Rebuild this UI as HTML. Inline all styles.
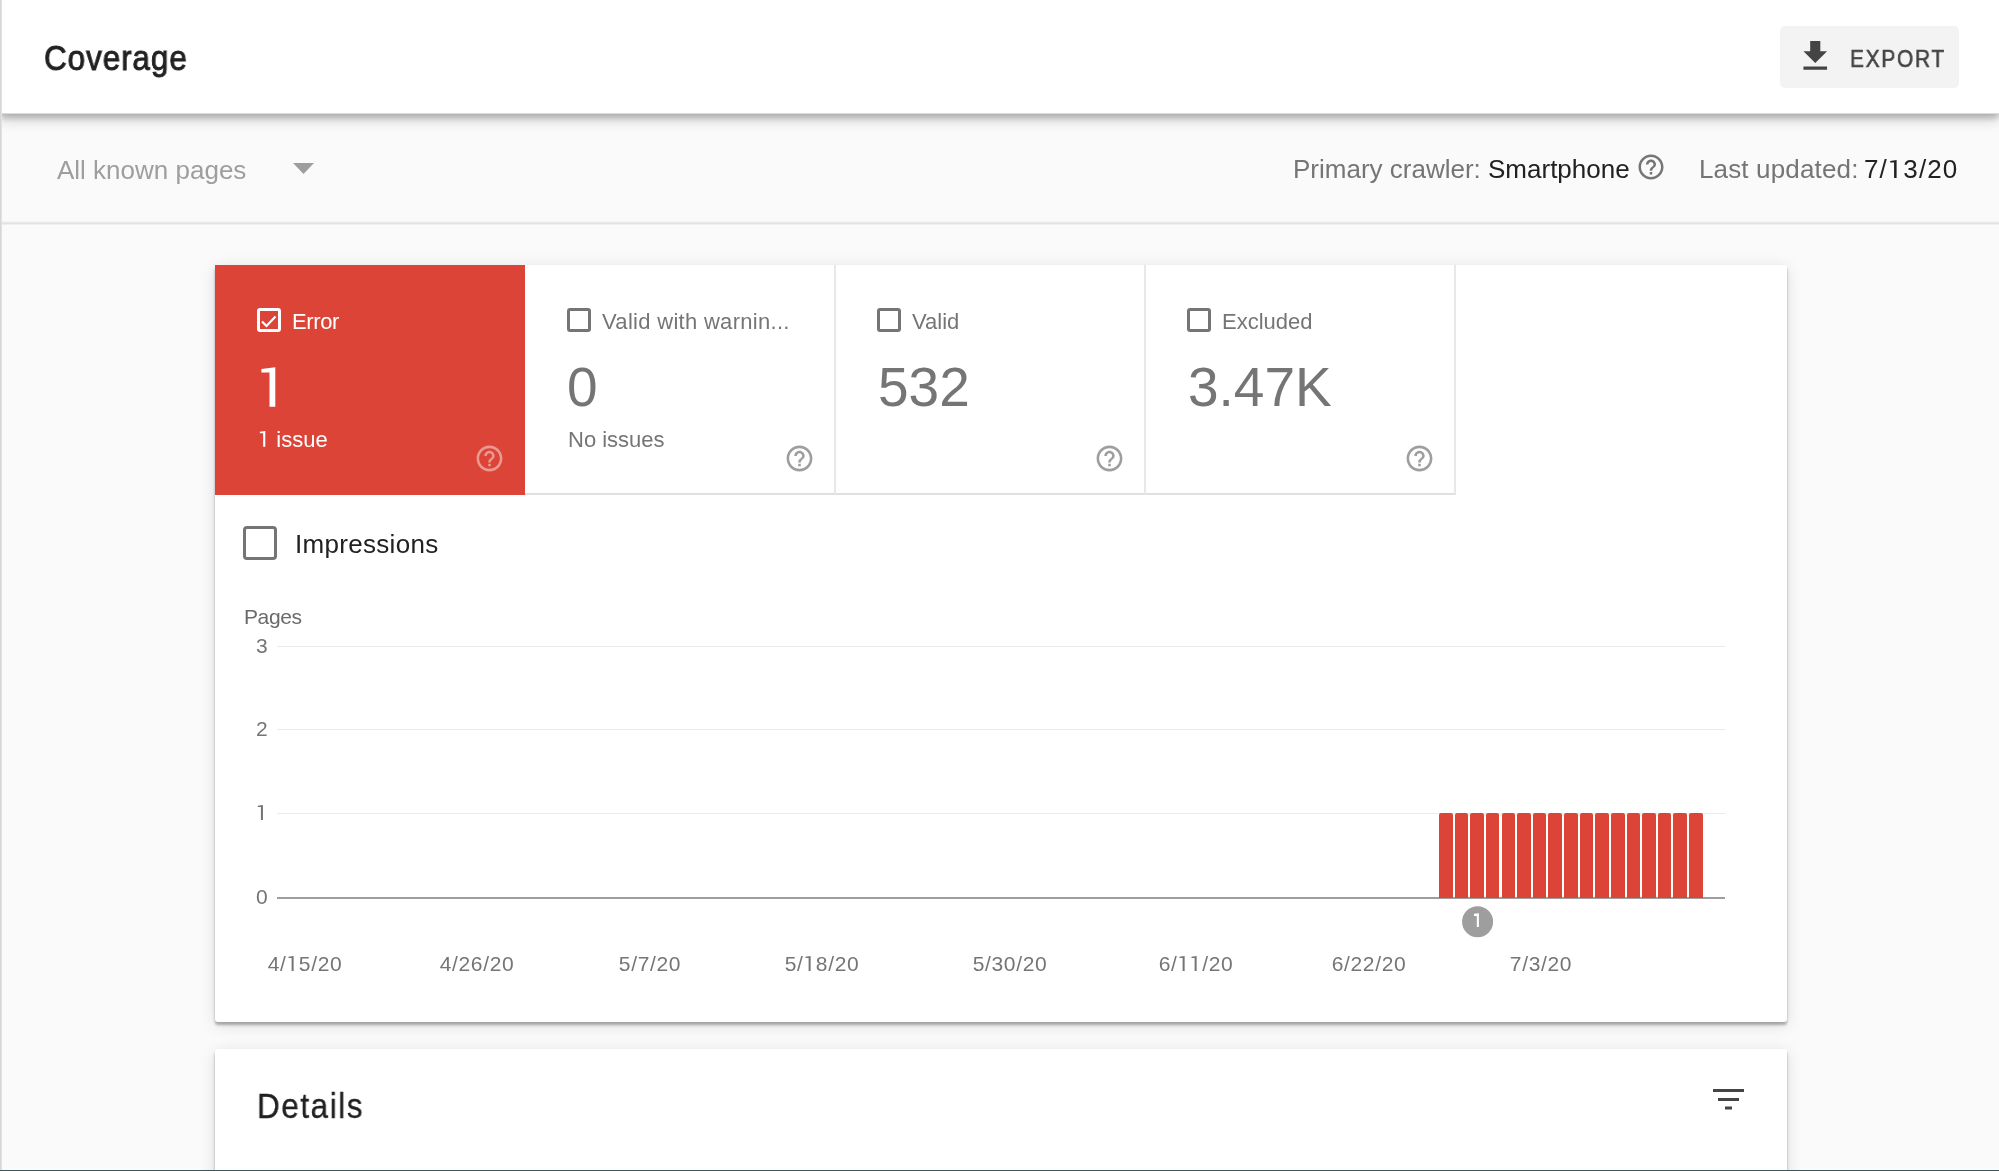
<!DOCTYPE html>
<html><head><meta charset="utf-8">
<style>
html,body{margin:0;padding:0;}
body{width:1999px;height:1171px;overflow:hidden;position:relative;background:#fafafa;font-family:"Liberation Sans",sans-serif;}
.a{position:absolute;white-space:nowrap;line-height:1;will-change:transform;}
#lstrip{left:0;top:0;width:2px;height:1171px;background:linear-gradient(90deg,#d6d6d6 0,#d6d6d6 50%,#e2e2e2 50%,#e2e2e2 100%);z-index:50;}
#bline{left:0;top:1170px;width:1999px;height:1px;background:#3b565d;z-index:50;}
#header{left:0;top:0;width:1999px;height:114px;background:#fff;box-shadow:0 4px 6px rgba(0,0,0,.2),0 7px 12px rgba(0,0,0,.15);z-index:10;}
#hline{left:0;top:113px;width:1999px;height:1px;background:rgba(0,0,0,.14);z-index:11;}
#title{left:44px;top:39.5px;font-size:35px;color:#222;-webkit-text-stroke:0.9px #222;letter-spacing:1.0px;transform:scaleX(0.9);transform-origin:0 0;}
#export{left:1780px;top:26px;width:179px;height:62px;background:#f3f3f3;border-radius:5px;}
#exptxt{left:1850px;top:47px;font-size:24px;color:#444;-webkit-text-stroke:0.6px #444;letter-spacing:2.0px;transform:scaleX(0.87);transform-origin:0 0;}
#filterbar{left:0;top:221px;width:1999px;height:4px;background:linear-gradient(180deg,#f4f4f4 0,#f4f4f4 25%,#eaeaea 25%,#eaeaea 50%,#e2e2e2 50%,#e2e2e2 75%,#efefef 75%,#efefef 100%);}
#allpages{left:57px;top:157px;font-size:26px;color:#9e9e9e;}
#crawl{left:1293px;top:156px;font-size:26px;color:#757575;}
#crawl b{font-weight:normal;color:#212121;}
#upd{left:1699px;top:156px;font-size:26px;color:#757575;letter-spacing:0.15px;}
#upd b{font-weight:normal;color:#212121;letter-spacing:1.1px;margin-left:-2px;}
.card{background:#fff;border-radius:3px;box-shadow:0 3px 3px rgba(0,0,0,.3),0 3px 16px rgba(0,0,0,.12);}
#card1{left:215px;top:265px;width:1572px;height:757px;}
#card2{left:215px;top:1049px;width:1572px;height:200px;}
.tab{position:absolute;top:265px;height:228px;width:308px;border-right:2px solid #e6e6e6;border-bottom:2px solid #e0e0e0;background:#fff;}
.tab.red{background:#db4437;border:none;width:310px;height:230px;}
.cb{position:absolute;box-sizing:border-box;border:3.5px solid #757575;border-radius:3px;}
.tlabel{font-size:22px;color:#757575;}
.bignum{font-size:55px;color:#757575;}
.sub{font-size:22px;color:#757575;}
#impr{left:294.5px;top:531px;font-size:26px;color:#212121;letter-spacing:0.3px;}
#pages{left:243.5px;top:606px;font-size:21px;color:#6a6a6a;letter-spacing:-0.4px;}
.ytick{font-size:21px;color:#757575;}
.grid{position:absolute;left:277px;width:1448px;height:1px;background:#ebebeb;}
.xl{font-size:21px;color:#757575;letter-spacing:0.65px;}
#details{left:259px;top:1087.9px;font-size:35px;color:#212121;-webkit-text-stroke:0.35px #212121;letter-spacing:1.7px;transform:scaleX(0.9);transform-origin:0 0;}
.one{width:0.556em;height:0.711em;vertical-align:baseline;fill:currentColor;display:inline-block;}
</style></head><body>
<div class="a" id="lstrip"></div>
<div class="a" id="bline"></div>
<div class="a" id="filterbar"></div>
<div class="a" id="header"></div>
<div class="a" id="hline"></div>
<div class="a" id="title" style="z-index:11">Coverage</div>
<div class="a" id="export" style="z-index:11"></div>
<svg class="a" style="left:1794.6px;top:36.3px;z-index:12" width="40.5" height="40.5" viewBox="0 0 24 24"><path d="M19 9h-4V3H9v6H5l7 7 7-7zM5 18v2h14v-2H5z" fill="#444"/></svg>
<div class="a" id="exptxt" style="z-index:12">EXPORT</div>

<div class="a" id="allpages">All known pages</div>
<svg class="a" style="left:293px;top:163px" width="21" height="11" viewBox="0 0 21 11"><path d="M0 0h21L10.5 11z" fill="#9e9e9e"/></svg>
<div class="a" id="crawl">Primary crawler: <b>Smartphone</b></div>
<svg class="a" style="left:1636px;top:152px" width="30" height="30" viewBox="0 0 24 24"><path fill="#757575" d="M11 18h2v-2h-2v2zm1-16C6.48 2 2 6.48 2 12s4.48 10 10 10 10-4.48 10-10S17.52 2 12 2zm0 18c-4.41 0-8-3.59-8-8s3.59-8 8-8 8 3.59 8 8-3.59 8-8 8zm0-14c-2.21 0-4 1.790-4 4h2c0-1.1.9-2 2-2s2 .9 2 2c0 2-3 1.75-3 5h2c0-2.25 3-2.5 3-5 0-2.21-1.79-4-4-4z"/></svg>
<div class="a" id="upd">Last updated: <b>7/<svg class="one" style="margin-right:1.1px;" viewBox="0 0 556 711"><path d="M85 35L331 0V711H234V97H85Z"/></svg>3/20</b></div>

<div class="a card" id="card1"></div>
<div class="a card" id="card2"></div>

<!-- tabs -->
<div class="a" style="left:215px;top:265px;width:310px;height:230px;background:#db4437"></div>
<div class="a" style="left:525px;top:493px;width:931px;height:2px;background:#e0e0e0"></div>
<div class="a" style="left:834px;top:265px;width:2px;height:229px;background:#e8e8e8;box-shadow:0 0 1px #eee"></div>
<div class="a" style="left:1144px;top:265px;width:2px;height:229px;background:#e8e8e8;box-shadow:0 0 1px #eee"></div>
<div class="a" style="left:1454px;top:265px;width:2px;height:229px;background:#e8e8e8;box-shadow:0 0 1px #eee"></div>
<!-- tab 1 -->
<div class="cb" style="left:257px;top:308px;width:24px;height:24px;border-color:#fff"></div>
<svg class="a" style="left:257px;top:308px" width="24" height="24" viewBox="0 0 24 24"><path d="M5 13.5l4.5 4.5L18.5 8.5" stroke="#fff" stroke-width="2.2" fill="none"/></svg>
<div class="a tlabel" style="left:292px;top:310.5px;color:#fff;letter-spacing:-0.4px">Error</div>
<svg class="a" style="left:0;top:0" width="400" height="420"><path d="M261.4 369L275.3 367.2V406.7H269.5V372.5H261.4Z" fill="#fff"/></svg>
<div class="a sub" style="left:258px;top:429px;color:#fff"><svg class="one" style="" viewBox="0 0 556 711"><path d="M85 35L331 0V711H234V97H85Z"/></svg> issue</div>

<div class="cb" style="left:567px;top:308px;width:24px;height:24px"></div>
<div class="a tlabel" style="left:602px;top:310.5px;letter-spacing:0.3px">Valid with warnin...</div>
<div class="a bignum" style="left:567px;top:360px">0</div>
<div class="a sub" style="left:568px;top:429px">No issues</div>

<div class="cb" style="left:877px;top:308px;width:24px;height:24px"></div>
<div class="a tlabel" style="left:912px;top:310.5px">Valid</div>
<div class="a bignum" style="left:878px;top:360px">532</div>

<div class="cb" style="left:1187px;top:308px;width:24px;height:24px"></div>
<div class="a tlabel" style="left:1222px;top:310.5px">Excluded</div>
<div class="a bignum" style="left:1188px;top:360px">3.47K</div>

<!-- help icons -->
<svg class="a" style="left:474.4px;top:442.8px" width="31" height="31" viewBox="0 0 24 24"><path fill="rgba(255,255,255,.45)" d="M11 18h2v-2h-2v2zm1-16C6.48 2 2 6.48 2 12s4.480 10 10 10 10-4.48 10-10S17.52 2 12 2zm0 18c-4.41 0-8-3.59-8-8s3.59-8 8-8 8 3.59 8 8-3.59 8-8 8zm0-14c-2.21 0-4 1.79-4 4h2c0-1.1.9-2 2-2s2 .9 2 2c0 2-3 1.75-3 5h2c0-2.25 3-2.5 3-5 0-2.21-1.79-4-4-4z"/></svg>
<svg class="a" style="left:784.4px;top:442.8px" width="31" height="31" viewBox="0 0 24 24"><path fill="#9e9e9e" d="M11 18h2v-2h-2v2zm1-16C6.48 2 2 6.48 2 12s4.48 10 10 10 10-4.48 10-10S17.52 2 12 2zm0 18c-4.41 0-8-3.59-8-8s3.59-8 8-8 8 3.59 8 8-3.59 8-8 8zm0-14c-2.21 0-4 1.79-4 4h2c0-1.1.9-2 2-2s2 .9 2 2c0 2-3 1.75-3 5h2c0-2.25 3-2.5 3-5 0-2.21-1.79-4-4-4z"/></svg>
<svg class="a" style="left:1094.4px;top:442.8px" width="31" height="31" viewBox="0 0 24 24"><path fill="#9e9e9e" d="M11 18h2v-2h-2v2zm1-16C6.48 2 2 6.48 2 12s4.48 10 10 10 10-4.48 10-10S17.52 2 12 2zm0 18c-4.41 0-8-3.59-8-8s3.59-8 8-8 8 3.59 8 8-3.59 8-8 8zm0-14c-2.21 0-4 1.79-4 4h2c0-1.1.9-2 2-2s2 .9 2 2c0 2-3 1.75-3 5h2c0-2.25 3-2.5 3-5 0-2.21-1.79-4-4-4z"/></svg>
<svg class="a" style="left:1404.4px;top:442.8px" width="31" height="31" viewBox="0 0 24 24"><path fill="#9e9e9e" d="M11 18h2v-2h-2v2zm1-16C6.48 2 2 6.48 2 12s4.48 10 10 10 10-4.48 10-10S17.52 2 12 2zm0 18c-4.41 0-8-3.59-8-8s3.59-8 8-8 8 3.59 8 8-3.59 8-8 8zm0-14c-2.21 0-4 1.79-4 4h2c0-1.1.9-2 2-2s2 .9 2 2c0 2-3 1.75-3 5h2c0-2.25 3-2.5 3-5 0-2.21-1.79-4-4-4z"/></svg>

<!-- impressions -->
<div class="cb" style="left:243px;top:526px;width:34px;height:34px;border-width:3.3px;border-radius:4px"></div>
<div class="a" id="impr">Impressions</div>

<!-- chart -->
<div class="a" id="pages">Pages</div>
<div class="grid" style="top:646px"></div>
<div class="grid" style="top:729px"></div>
<div class="grid" style="top:813px"></div>
<div class="grid" style="top:897px;height:2px;background:#9e9e9e"></div>
<div class="a ytick" style="left:256px;top:635px">3</div>
<div class="a ytick" style="left:256px;top:718px">2</div>
<div class="a ytick" style="left:256px;top:802px"><svg class="one" style="" viewBox="0 0 556 711"><path d="M85 35L331 0V711H234V97H85Z"/></svg></div>
<div class="a ytick" style="left:256px;top:886px">0</div>
<div id="bars"><div style="position:absolute;left:1439.00px;top:813px;width:13.6px;height:85px;background:#db4437;border-radius:2px 2px 0 0"></div><div style="position:absolute;left:1454.63px;top:813px;width:13.6px;height:85px;background:#db4437;border-radius:2px 2px 0 0"></div><div style="position:absolute;left:1470.26px;top:813px;width:13.6px;height:85px;background:#db4437;border-radius:2px 2px 0 0"></div><div style="position:absolute;left:1485.89px;top:813px;width:13.6px;height:85px;background:#db4437;border-radius:2px 2px 0 0"></div><div style="position:absolute;left:1501.52px;top:813px;width:13.6px;height:85px;background:#db4437;border-radius:2px 2px 0 0"></div><div style="position:absolute;left:1517.15px;top:813px;width:13.6px;height:85px;background:#db4437;border-radius:2px 2px 0 0"></div><div style="position:absolute;left:1532.78px;top:813px;width:13.6px;height:85px;background:#db4437;border-radius:2px 2px 0 0"></div><div style="position:absolute;left:1548.41px;top:813px;width:13.6px;height:85px;background:#db4437;border-radius:2px 2px 0 0"></div><div style="position:absolute;left:1564.04px;top:813px;width:13.6px;height:85px;background:#db4437;border-radius:2px 2px 0 0"></div><div style="position:absolute;left:1579.67px;top:813px;width:13.6px;height:85px;background:#db4437;border-radius:2px 2px 0 0"></div><div style="position:absolute;left:1595.30px;top:813px;width:13.6px;height:85px;background:#db4437;border-radius:2px 2px 0 0"></div><div style="position:absolute;left:1610.93px;top:813px;width:13.6px;height:85px;background:#db4437;border-radius:2px 2px 0 0"></div><div style="position:absolute;left:1626.56px;top:813px;width:13.6px;height:85px;background:#db4437;border-radius:2px 2px 0 0"></div><div style="position:absolute;left:1642.19px;top:813px;width:13.6px;height:85px;background:#db4437;border-radius:2px 2px 0 0"></div><div style="position:absolute;left:1657.82px;top:813px;width:13.6px;height:85px;background:#db4437;border-radius:2px 2px 0 0"></div><div style="position:absolute;left:1673.45px;top:813px;width:13.6px;height:85px;background:#db4437;border-radius:2px 2px 0 0"></div><div style="position:absolute;left:1689.08px;top:813px;width:13.6px;height:85px;background:#db4437;border-radius:2px 2px 0 0"></div></div>
<svg class="a" style="left:0;top:0" width="1999" height="1171"><circle cx="1477.6" cy="921.7" r="15.5" fill="#9e9e9e"/><path d="M1474 913.7L1478.9 913.2V927.1H1476.8V916H1474Z" fill="#fff"/></svg>

<div class="a xl" style="left:305.0px;top:953px;transform:translateX(-50%)">4/<svg class="one" style="margin-right:0.65px;" viewBox="0 0 556 711"><path d="M85 35L331 0V711H234V97H85Z"/></svg>5/20</div>
<div class="a xl" style="left:477.3px;top:953px;transform:translateX(-50%)">4/26/20</div>
<div class="a xl" style="left:650.0px;top:953px;transform:translateX(-50%)">5/7/20</div>
<div class="a xl" style="left:822.3px;top:953px;transform:translateX(-50%)">5/<svg class="one" style="margin-right:0.65px;" viewBox="0 0 556 711"><path d="M85 35L331 0V711H234V97H85Z"/></svg>8/20</div>
<div class="a xl" style="left:1010.2px;top:953px;transform:translateX(-50%)">5/30/20</div>
<div class="a xl" style="left:1196.1px;top:953px;transform:translateX(-50%)">6/<svg class="one" style="margin-right:0.65px;" viewBox="0 0 556 711"><path d="M85 35L331 0V711H234V97H85Z"/></svg><svg class="one" style="margin-right:0.65px;" viewBox="0 0 556 711"><path d="M85 35L331 0V711H234V97H85Z"/></svg>/20</div>
<div class="a xl" style="left:1368.7px;top:953px;transform:translateX(-50%)">6/22/20</div>
<div class="a xl" style="left:1540.9px;top:953px;transform:translateX(-50%)">7/3/20</div>

<!-- details -->
<div class="a" id="details" style="left:257px">Details</div>
<svg class="a" style="left:1713px;top:1089px" width="31" height="21" viewBox="0 0 31 21"><path d="M0 0h31v3H0zM5 9h21v3H5zM12 17.4h7v3h-7z" fill="#444"/></svg>
</body></html>
